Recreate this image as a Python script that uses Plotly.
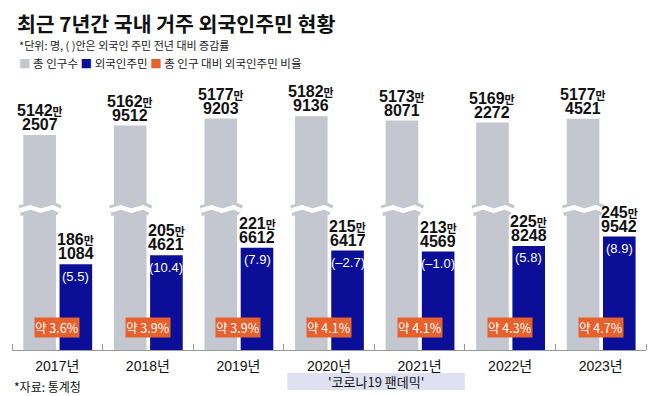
import numpy as np
import plotly.graph_objects as go

# ---------------- data ----------------
years = ["2017년", "2018년", "2019년", "2020년", "2021년", "2022년", "2023년"]
total_pop = [51422507, 51629512, 51779203, 51829136, 51738071, 51692272, 51774521]
foreign_pop = [1861084, 2054621, 2216612, 2156417, 2134569, 2258248, 2459542]
foreign_change = [5.5, 10.4, 7.9, -2.7, -1.0, 5.8, 8.9]
foreign_ratio = ["3.6", "3.9", "3.9", "4.1", "4.1", "4.3", "4.7"]

# ---------------- style ----------------
GRAY = "#c4c7cf"
BLUE = "#0b0f98"
ORANGE = "#e8612c"
LAVENDER = "#dfe1f3"
KFONT = "Noto Sans CJK KR, Noto Sans, sans-serif"
NFONT = "Liberation Sans Narrow, Liberation Sans, Arial, Noto Sans CJK KR, sans-serif"

MAN = 10000.0
BREAK_CUT = 4676.0      # 만 – amount removed from the grey bars by the axis break
BREAK_LEVEL = 306.0     # display level (만) where the wavy break is drawn
GRAY_OFF, BW = -0.375, 0.36
BLUE_OFF = 0.025

xs = list(range(len(years)))
gray_disp = [t / MAN - BREAK_CUT for t in total_pop]
blue_disp = [f / MAN for f in foreign_pop]

fig = go.Figure()
fig.add_trace(go.Bar(x=xs, y=gray_disp, offset=GRAY_OFF, width=BW, marker_color=GRAY,
                     marker_line_width=0, hoverinfo="skip", showlegend=False))
fig.add_trace(go.Bar(x=xs, y=blue_disp, offset=BLUE_OFF, width=BW, marker_color=BLUE,
                     marker_line_width=0, hoverinfo="skip", showlegend=False))

# wavy axis-break marks on the grey bars
for i in xs:
    left = i + GRAY_OFF
    wx = np.linspace(left - 0.04, left + BW + 0.04, 60)
    wy = BREAK_LEVEL + 4.0 * np.sin(2 * np.pi * (wx - left) / (BW / 1.5))
    fig.add_trace(go.Scatter(x=wx, y=wy, mode="lines", line=dict(color=GRAY, width=11),
                             hoverinfo="skip", showlegend=False))
    fig.add_trace(go.Scatter(x=wx, y=wy, mode="lines", line=dict(color="white", width=4.5),
                             hoverinfo="skip", showlegend=False))

ann = []


def split_num(v):
    s = str(v)
    return s[:-4], s[-4:]


NUMF = dict(family=NFONT, size=16, color="#111")
for i in xs:
    gx = i + GRAY_OFF + BW / 2
    bx = i + BLUE_OFF + BW / 2
    for cx, val, disp in ((gx, total_pop[i], gray_disp[i]), (bx, foreign_pop[i], blue_disp[i])):
        hi, lo = split_num(val)
        ann.append(dict(x=cx, y=disp, yshift=25, height=14,
                        text=f"<b>{hi}<span style='font-size:11px'>만</span></b>",
                        font=NUMF, showarrow=False, yanchor="middle"))
        ann.append(dict(x=cx, y=disp, yshift=11, height=14, text=f"<b>{lo}</b>",
                        font=NUMF, showarrow=False, yanchor="middle"))
    ch = f"({foreign_change[i]:.1f})".replace("-", "–")
    ann.append(dict(x=bx, y=blue_disp[i], yshift=-12, text=ch,
                    font=dict(family="Liberation Sans, Arial, sans-serif", size=13, color="white"),
                    showarrow=False, yanchor="middle"))
    ann.append(dict(x=i, y=0, yshift=23, text=f"약 {foreign_ratio[i]}%",
                    font=dict(family=KFONT, size=12.5, color="white"), bgcolor=ORANGE, borderpad=0,
                    showarrow=False, yanchor="middle"))

# page coordinates (the page body adds an 8px margin at top/left)
PAGE_OFF = 8
PLOT_TOP, PLOT_BOT = 60, 350
PH = PLOT_BOT - PLOT_TOP
FIG_W, FIG_H = 658 - PAGE_OFF, 396 - PAGE_OFF


def py(p):
    return (PLOT_BOT - p) / PH


ann.append(dict(xref="paper", yref="paper", x=0.008, y=py(45), xanchor="left", yanchor="middle",
                text="*단위: 명, ( )안은 외국인 주민 전년 대비 증감률", showarrow=False,
                font=dict(family=KFONT, size=11, color="#222")))
ann.append(dict(xref="paper", yref="paper", x=0.008, y=py(63), xanchor="left", yanchor="middle",
                text=(f"<span style='color:{GRAY}'>■</span> 총 인구수 "
                      f"<span style='color:{BLUE}'>■</span> 외국인주민 "
                      f"<span style='color:{ORANGE}'>■</span> 총 인구 대비 외국인주민 비율"),
                showarrow=False, font=dict(family=KFONT, size=11.5, color="#222")))
ann.append(dict(xref="paper", yref="paper", x=0.0, y=py(386), xanchor="left", yanchor="middle",
                text="*자료: 통계청", showarrow=False, font=dict(family=KFONT, size=12, color="#111")))
ann.append(dict(xref="x", yref="paper", x=3.52, y=py(381), xanchor="center", yanchor="middle",
                text="'코로나19 팬데믹'", showarrow=False, font=dict(family=KFONT, size=13, color="#111")))

fig.update_layout(
    width=FIG_W, height=FIG_H,
    margin=dict(l=12 - PAGE_OFF, r=FIG_W - (646 - PAGE_OFF), t=PLOT_TOP - PAGE_OFF, b=FIG_H - (PLOT_BOT - PAGE_OFF)),
    paper_bgcolor="white", plot_bgcolor="white",
    barmode="overlay",
    title=dict(text="<b>최근 7년간 국내 거주 외국인주민 현황</b>", x=(17 - PAGE_OFF) / FIG_W, xanchor="left",
               y=1 - (25 - PAGE_OFF) / FIG_H, yanchor="middle", font=dict(family=KFONT, size=20.5, color="#111")),
    xaxis=dict(range=[-0.5, 6.5], tickmode="array", tickvals=xs, ticktext=years, ticks="",
               ticklabelstandoff=3,
               showline=True, linecolor="#999", linewidth=1, showgrid=False, zeroline=False,
               tickfont=dict(family="Liberation Sans, Arial, Noto Sans CJK KR, sans-serif", size=14, color="#111"),
               minor=dict(tick0=-0.5, dtick=1, ticks="inside", ticklen=6, tickcolor="#999", showgrid=False)),
    yaxis=dict(range=[0, PH / 0.461], visible=False, fixedrange=True),
    annotations=ann,
    shapes=[dict(type="rect", xref="x", yref="paper", x0=2.54, x1=4.5, y0=py(390), y1=py(373),
                 fillcolor=LAVENDER, line=dict(width=0), layer="below")],
)

fig.write_html("out.html")
